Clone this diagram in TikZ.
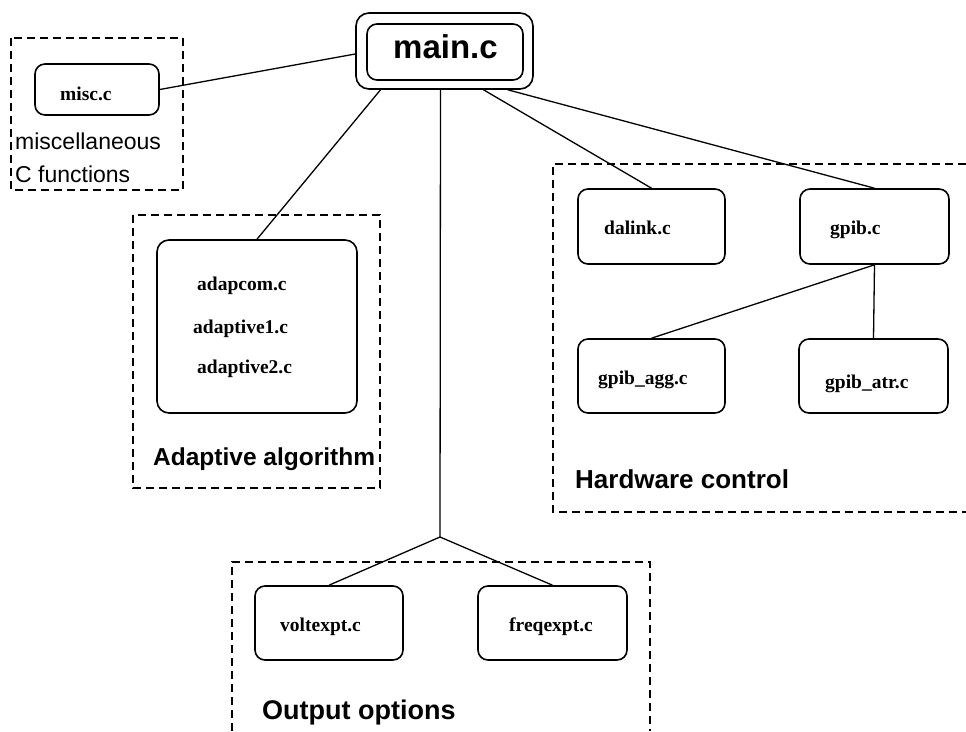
\documentclass[tikz,border=0pt]{standalone}
\usepackage{fontspec}
\setmainfont{Liberation Serif}
\setsansfont{Liberation Sans}
\begin{document}
\begin{tikzpicture}[x=1pt,y=-1pt,
  filebox/.style={draw, rounded corners=10pt, line width=1.6pt, inner sep=0pt},
  fname/.style={font=\fontsize{19.5}{22}\selectfont\bfseries, anchor=base west, inner sep=0pt},
  grouplbl/.style={font=\sffamily\fontsize{23}{26}\selectfont, anchor=base west, inner sep=0pt},
  groupbold/.style={font=\sffamily\bfseries\fontsize{#1}{#1}\selectfont, anchor=base west, inner sep=0pt},
  groupframe/.style={line width=1.3pt, dash pattern=on 8pt off 5pt},
  link/.style={line width=1.3pt}]
  \useasboundingbox[fill=white] (0,0) rectangle (966,731);

  % module groups (dashed frames)
  \draw[groupframe] (11,38) rectangle (183,190);
  \draw[groupframe] (133,215) rectangle (380,488);
  \draw[groupframe] (966,164) -- (553,164) -- (553,512) -- (966,512);
  \draw[groupframe] (232,731) -- (232,562) -- (650,562) -- (650,731);

  % main program
  \node[filebox, rounded corners=13pt, minimum width=177pt, minimum height=76pt] (main) at (444.5,51) {};
  \node[filebox, rounded corners=10pt, minimum width=156pt, minimum height=56pt] (maininner) at (445,52) {};
  \node[groupbold=33] (mainlbl) at (393,58) {main.c};

  % source files
  \node[filebox, minimum width=124pt, minimum height=51pt] (misc) at (97,89.5) {};
  \node[fname] (misclbl) at (60,100) {misc.c};

  \node[filebox, rounded corners=12pt, minimum width=200pt, minimum height=173pt] (adapt) at (257,326.5) {};
  \node[fname] (adapcom) at (197,290) {adapcom.c};
  \node[fname] (adaptone) at (193,333) {adaptive1.c};
  \node[fname] (adapttwo) at (197,373) {adaptive2.c};

  \node[filebox, minimum width=147pt, minimum height=75pt] (dalink) at (651.5,226.5) {};
  \node[fname] (dalinklbl) at (604,234) {dalink.c};
  \node[filebox, minimum width=149pt, minimum height=75pt] (gpib) at (874.5,226.5) {};
  \node[fname] (gpiblbl) at (830,234) {gpib.c};
  \node[filebox, minimum width=147pt, minimum height=74pt] (gpibagg) at (651.5,376) {};
  \node[fname] (gpibagglbl) at (598,384) {gpib\_agg.c};
  \node[filebox, minimum width=149pt, minimum height=74pt] (gpibatr) at (873.5,376) {};
  \node[fname] (gpibatrlbl) at (825,388) {gpib\_atr.c};

  \node[filebox, minimum width=148pt, minimum height=74pt] (volt) at (329,623) {};
  \node[fname] (voltlbl) at (280,631) {voltexpt.c};
  \node[filebox, minimum width=149pt, minimum height=74pt] (freq) at (552.5,623) {};
  \node[fname] (freqlbl) at (509,631) {freqexpt.c};

  % group captions
  \node[grouplbl] (misccap1) at (15,149) {miscellaneous};
  \node[grouplbl] (misccap2) at (15,182) {C functions};
  \node[groupbold=24.5] (adaptcap) at (153,465) {Adaptive algorithm};
  \node[groupbold=26] (hwcap) at (575,488) {Hardware control};
  \node[groupbold=27] (outcap) at (262,719) {Output options};

  % call structure
  \coordinate (split) at (440,537);
  \draw[link] (misc.east) -- ([yshift=-3pt]main.west);
  \draw[link] ([xshift=-64pt]main.south) -- (adapt.north);
  \draw[link] ([xshift=-4pt]main.south) -- (split);
  \draw[link] ([xshift=39pt]main.south) -- (dalink.north);
  \draw[link] ([xshift=-26pt]main.south east) -- (gpib.north);
  \draw[link] (gpib.south) -- (gpibagg.north);
  \draw[link] (gpib.south) -- (gpibatr.north);
  \draw[link] (split) -- (volt.north);
  \draw[link] (split) -- (freq.north);
\end{tikzpicture}
\end{document}
